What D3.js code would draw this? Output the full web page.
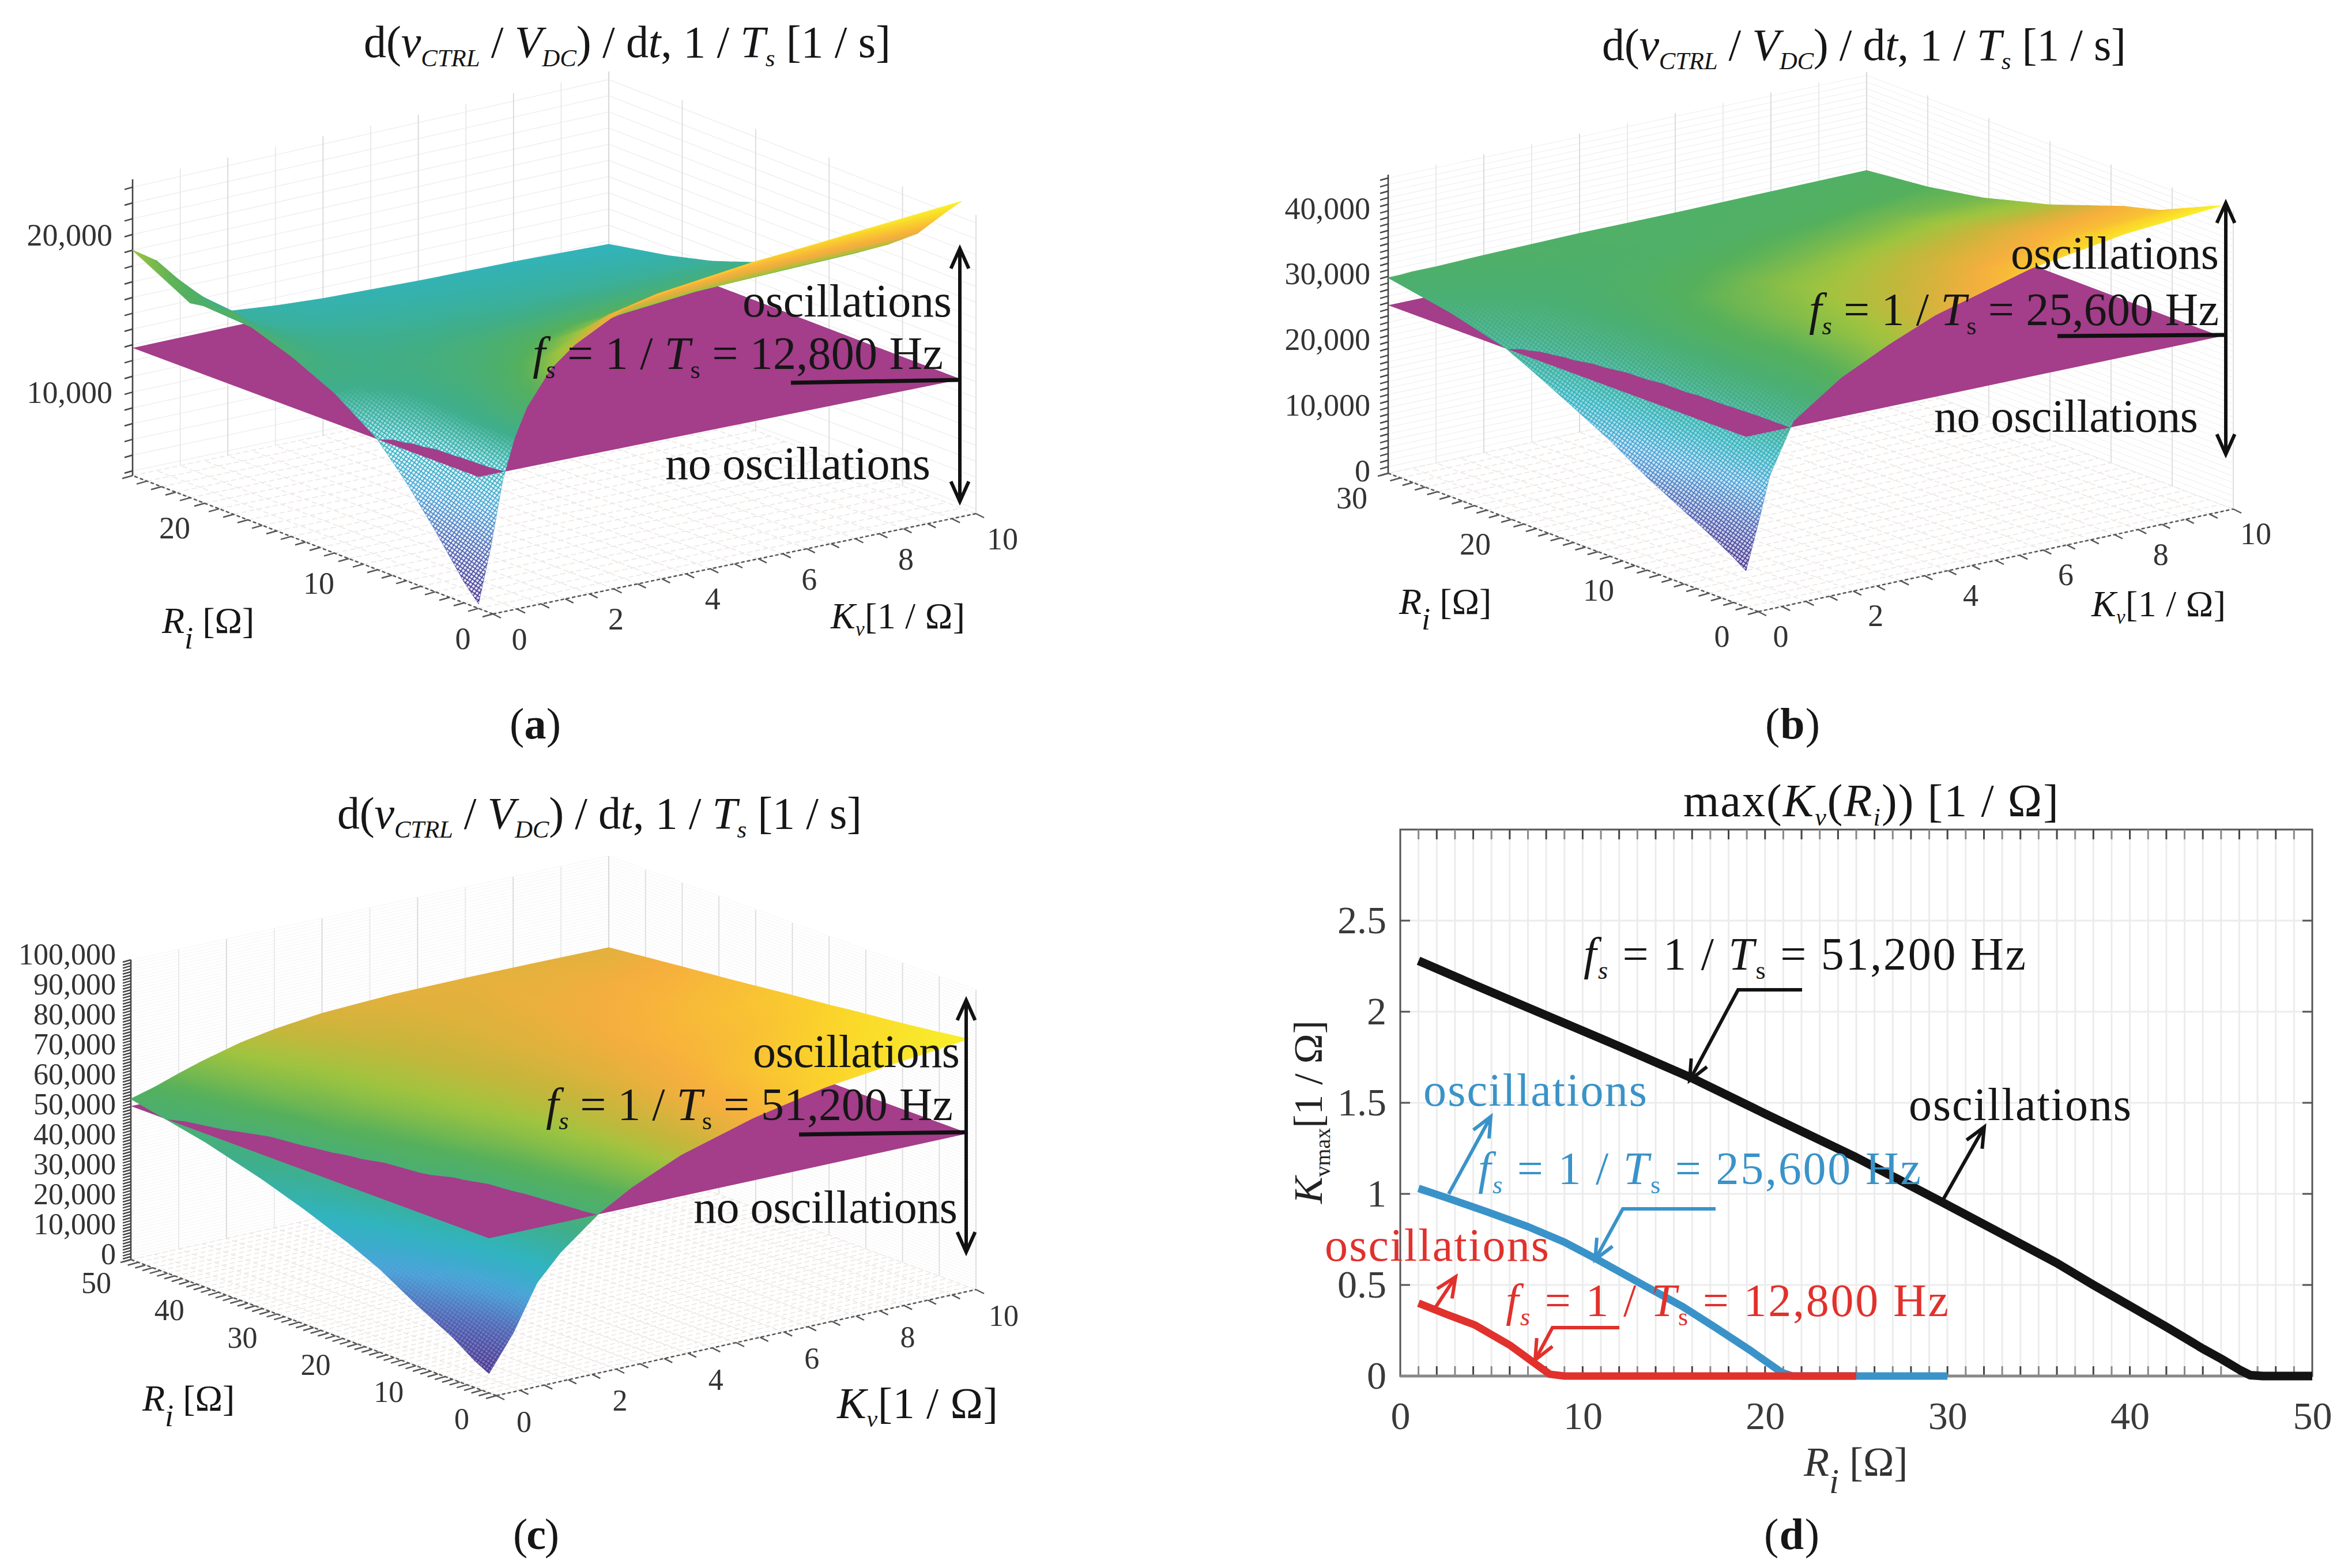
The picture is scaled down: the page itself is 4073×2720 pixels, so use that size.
<!DOCTYPE html>
<html>
<head>
<meta charset="utf-8">
<script src="https://cdn.jsdelivr.net/npm/d3@7"></script>
<style>
  body { margin: 0; background: #fff; }
  svg { display: block; font-family: "Liberation Serif", serif; }
  text { white-space: pre; }
</style>
</head>
<body>
<svg id="fig" width="4073" height="2720"></svg>
<script>
// values

// (a) fs = 12,800 Hz
var riA = [1, 2, 4, 6, 8, 11, 14, 18, 21, 25];
var kvA = [0, 0.25, 0.5, 0.75, 1, 1.5, 2, 3, 4, 6, 8, 10];
var zA = [
  [5000, 8300, 12300, 14800, 16500, 18600, 19800, 21400, 22000, 22800, 23400, 24000],
  [6000, 9300, 12800, 14900, 16200, 17900, 19100, 20700, 21400, 22200, 22700, 23000],
  [8500, 11000, 13200, 14500, 15400, 16700, 17700, 19000, 19700, 20400, 20700, 20900],
  [10800, 12300, 13500, 14400, 15000, 15900, 16700, 17800, 18400, 19000, 19300, 19500],
  [12800, 13300, 13900, 14400, 14800, 15500, 16000, 16900, 17400, 17900, 18100, 18300],
  [14700, 14800, 14900, 15000, 15000, 15300, 15500, 15900, 16200, 16500, 16700, 16800],
  [16000, 15700, 15500, 15300, 15100, 15000, 15000, 15100, 15200, 15400, 15500, 15500],
  [17400, 16600, 16000, 15600, 15200, 14800, 14600, 14400, 14300, 14200, 14200, 14200],
  [17000, 16700, 16200, 15800, 15300, 14600, 14200, 13900, 13800, 13700, 13600, 13500],
  [19000, 18500, 18000, 17100, 16300, 15000, 13800, 13500, 13300, 13100, 13000, 12800]
];

// (b) fs = 25,600 Hz
var riB = [1, 2, 4, 6, 9, 12, 15, 18, 20.5, 25, 30];
var kvB = [0, 0.25, 0.5, 1, 1.5, 2, 3, 4, 6, 8, 10];
var zB = [
  [5500, 12000, 19000, 26500, 29000, 31500, 35000, 38000, 42000, 44300, 45500],
  [6800, 13000, 19500, 26500, 28900, 31200, 34800, 37400, 41000, 43400, 44700],
  [9000, 14500, 20500, 26500, 28800, 30800, 34300, 36800, 40000, 42000, 43000],
  [11000, 16000, 21500, 26800, 28800, 30700, 34000, 36200, 38900, 40500, 41300],
  [14000, 18500, 22800, 27000, 28900, 31000, 33500, 35500, 37500, 39000, 39800],
  [17500, 20800, 24000, 27000, 28800, 30800, 33000, 34600, 36200, 37400, 37800],
  [20500, 22800, 25000, 27200, 28700, 30300, 32300, 33500, 34800, 35800, 35800],
  [23400, 24700, 26000, 27500, 28700, 29800, 31200, 32200, 33300, 34300, 34300],
  [25700, 26200, 26900, 27900, 28800, 29500, 30600, 31200, 32200, 33000, 33000],
  [28000, 28200, 28500, 28900, 29200, 29500, 29800, 30100, 30500, 31000, 31500],
  [29800, 29800, 29900, 29900, 30000, 30100, 30200, 30300, 30300, 30400, 30500]
];

// (c) fs = 51,200 Hz
var riC = [1, 3, 6, 11, 16, 20, 26, 32, 40, 50];
var kvC = [0, 0.5, 1, 1.5, 2.3, 3, 4, 5.5, 7, 8.5, 10];
var zC = [
  [6500, 18000, 33000, 41500, 51600, 58000, 65000, 72000, 77000, 80000, 82700],
  [9000, 19500, 32000, 41000, 52500, 58500, 64800, 71400, 76200, 79300, 82000],
  [14000, 22500, 33500, 42300, 53500, 59000, 64800, 71000, 75500, 78500, 81000],
  [20500, 28500, 37000, 45000, 55000, 60000, 65000, 70500, 74400, 77000, 79500],
  [27700, 34000, 41500, 48800, 56400, 60800, 65000, 69800, 73000, 75500, 78200],
  [32200, 37500, 44500, 52300, 58000, 61500, 65200, 69300, 72300, 74300, 77000],
  [38000, 42500, 49500, 54800, 59500, 62500, 65500, 69000, 71700, 73700, 75500],
  [43000, 46500, 52800, 57000, 61000, 63300, 66000, 68800, 71000, 72500, 73800],
  [48500, 52000, 56000, 59000, 62000, 64200, 66500, 68700, 70200, 71000, 71800],
  [53600, 55800, 58500, 61000, 64300, 66300, 68200, 69300, 69500, 69400, 69200]
];

// (d) max(Kv(Ri)) curves
var riBlack = [1, 4, 8, 12, 15.9, 20, 25, 29.6, 33, 36, 38, 40, 42, 44, 45, 46, 46.6, 47.3, 50];
var kBlack = [2.28, 2.15, 1.98, 1.81, 1.64, 1.44, 1.2, 0.96, 0.78, 0.62, 0.5, 0.385, 0.27, 0.15, 0.095, 0.035, 0.005, 0, 0];
var riBlue = [1, 2.5, 4.8, 7, 9, 10.8, 13.5, 15.5, 17.3, 19.2, 20.9, 21.5, 30];
var kBlue = [1.03, 0.98, 0.90, 0.82, 0.735, 0.64, 0.49, 0.38, 0.265, 0.14, 0.02, 0, 0];
var riRed = [1, 2.5, 4.1, 6, 7.5, 8.2, 9, 25];
var kRed = [0.40, 0.34, 0.28, 0.17, 0.06, 0.01, 0, 0];

var xTicksD = [0, 10, 20, 30, 40, 50];
var yTicksD = [0, 0.5, 1, 1.5, 2, 2.5];

var riLabelsA = [0, 10, 20];
var riLabelsB = [0, 10, 20, 30];
var riLabelsC = [0, 10, 20, 30, 40, 50];
var kvLabels = [0, 2, 4, 6, 8, 10];
var zLabelsA = [10000, 20000];
var zLabelsB = [0, 10000, 20000, 30000, 40000];
var zLabelsC = [0, 10000, 20000, 30000, 40000, 50000, 60000, 70000, 80000, 90000, 100000];

var fmt = d3.format(",");
var svg = d3.select("#fig");
var defs = svg.append("defs");
var gradId = 0;

var colormap = d3.scaleLinear()
  .domain([0, 0.15, 0.28, 0.40, 0.52, 0.65, 0.74, 0.79, 0.85, 0.93, 1])
  .range(["#45308f", "#4d62b3", "#4aa3da", "#30b4c0", "#3fae8a", "#55b05c", "#9fc43f", "#c9b53b", "#f6ae3e", "#fbd52a", "#f8f12b"]);

// white dots of the open mesh in the low part of the surface
defs.append("pattern").attr("id", "meshPat")
  .attr("width", 6).attr("height", 6)
  .attr("patternUnits", "userSpaceOnUse")
  .attr("patternTransform", "rotate(35)")
  .append("rect").attr("width", 4.2).attr("height", 4.2).attr("fill", "#fff");
defs.append("mask").attr("id", "meshMask")
  .attr("maskUnits", "userSpaceOnUse")
  .attr("x", 0).attr("y", 0).attr("width", 4073).attr("height", 2720)
  .append("rect").attr("width", 4073).attr("height", 2720).attr("fill", "url(#meshPat)");

// text with italic and subscript pieces
function rich(g, x, y, segs, size, o) {
  o = o || {};
  var t = g.append("text").attr("x", x).attr("y", y)
    .attr("font-size", size).attr("fill", o.fill || "#161616");
  if (o.width) t.attr("textLength", o.width).attr("lengthAdjust", "spacing");
  if (o.anchor) t.attr("text-anchor", o.anchor);
  if (o.transform) t.attr("transform", o.transform);
  var shift = 0;
  segs.forEach(function (s) {
    var kind = s[1] || "";
    var fs = size, want = 0;
    if (kind.indexOf("sub") >= 0) { fs = size * 0.55; want = size * 0.2; }
    if (kind.indexOf("big") >= 0) { fs = size * 0.85; want = size * 0.42; }
    var ts = t.append("tspan").text(s[0]).attr("font-size", fs).attr("dy", want - shift);
    if (kind.indexOf("i") == 0) ts.attr("font-style", "italic");
    shift = want;
  });
  return t;
}

function fsSegs(v) {
  return [["f", "i"], ["s", "isub"], [" = 1 / "], ["T", "i"], ["s", "sub"], [" = " + v + " Hz"]];
}
var titleSegs = [["d("], ["v", "i"], ["CTRL", "isub"], [" / "], ["V", "i"], ["DC", "isub"], [") / d"], ["t", "i"], [", 1 / "], ["T", "i"], ["s", "isub"], [" [1 / s]"]];

// line with open arrow heads
function arrow(g, pts, color, w, both) {
  var line = d3.line();
  g.append("path").attr("d", line(pts)).attr("fill", "none")
    .attr("stroke", color).attr("stroke-width", w);
  function head(tip, from) {
    var a = Math.atan2(from[1] - tip[1], from[0] - tip[0]);
    var len = 38, spread = 0.42;
    var p1 = [tip[0] + len * Math.cos(a + spread), tip[1] + len * Math.sin(a + spread)];
    var p2 = [tip[0] + len * Math.cos(a - spread), tip[1] + len * Math.sin(a - spread)];
    g.append("path").attr("d", line([p1, tip, p2])).attr("fill", "none")
      .attr("stroke", color).attr("stroke-width", w);
  }
  var n = pts.length;
  head(pts[n - 1], pts[n - 2]);
  if (both) head(pts[0], pts[1]);
}

function surfacePanel(p) {
  var g = svg.append("g");
  var uS = d3.scaleLinear().domain([0, p.riMax]).range([0, 1]);
  var vS = d3.scaleLinear().domain([0, 10]).range([0, 1]);
  var wS = d3.scaleLinear().domain([p.zMin, p.zMax]).range([0, 1]);
  var zLo = d3.min(p.z, function (r) { return d3.min(r); });
  var zHi = d3.max(p.z, function (r) { return d3.max(r); });
  var cS = d3.scaleLinear().domain([zLo, zHi]).range([0, 1]).clamp(true);
  var meshS = d3.scaleLinear().domain([p.meshFull, p.meshTop]).range([p.meshMax, 0]).clamp(true);

  function project(ri, kv, z) {
    var u = uS(ri), v = vS(kv), w = wS(z);
    function bl(a, b, c, d) { return (1 - u) * (1 - v) * a + u * (1 - v) * b + (1 - u) * v * c + u * v * d; }
    var x = bl(p.F[0], p.L[0], p.R[0], p.B[0]);
    var y = bl(p.F[1], p.L[1], p.R[1], p.B[1]);
    var h = bl(p.h[0], p.h[1], p.h[2], p.h[3]);
    return [x, y - w * h];
  }
  function seg(a, b, color, w, dash) {
    var l = g.append("line").attr("x1", a[0]).attr("y1", a[1]).attr("x2", b[0]).attr("y2", b[1])
      .attr("stroke", color).attr("stroke-width", w);
    if (dash) l.attr("stroke-dasharray", dash);
  }

  // walls and floor
  var riGrid = d3.range(0, p.riMax + 0.01, p.riStep);
  var kvGrid = d3.range(0, 10.01, 0.5);
  var zGrid = d3.range(Math.ceil(p.zMin / p.zStep) * p.zStep, p.zMax + 1, p.zStep);
  zGrid.forEach(function (z) {
    seg(project(p.riMax, 0, z), project(p.riMax, 10, z), "#efefef", p.wallW);
    seg(project(p.riMax, 10, z), project(0, 10, z), "#efefef", p.wallW);
    seg(project(p.riMax, 0, z), [project(p.riMax, 0, z)[0] - 14, project(p.riMax, 0, z)[1] + 4], "#444", 2.5);
  });
  riGrid.forEach(function (r) {
    seg(project(r, 0, p.zMin), project(r, 10, p.zMin), "#ebe6e3", 1.6, "9 5");
    if (r % p.riWall == 0) seg(project(r, 10, p.zMin), project(r, 10, p.zMax), "#dcdcdc", 1.8);
  });
  kvGrid.forEach(function (k) {
    seg(project(0, k, p.zMin), project(p.riMax, k, p.zMin), "#ebe6e3", 1.6, "9 5");
    if (k % 1 == 0) seg(project(p.riMax, k, p.zMin), project(p.riMax, k, p.zMax), k % 2 == 0 ? "#d8d8d8" : "#e8e8e8", 1.8);
  });

  // axis lines and ticks
  seg(project(p.riMax, 0, p.zMin), project(p.riMax, 0, p.zMax), "#444", 2.6);
  seg(project(0, 0, p.zMin), project(p.riMax, 0, p.zMin), "#555", 2.5, "6 4");
  seg(project(0, 0, p.zMin), project(0, 10, p.zMin), "#555", 2.5, "6 4");
  riGrid.forEach(function (r) {
    var a = project(r, 0, p.zMin);
    seg(a, [a[0] - 18, a[1] + 5], "#555", 2.5);
  });
  kvGrid.forEach(function (k) {
    var a = project(0, k, p.zMin);
    seg(a, [a[0] + 14, a[1] + 7], "#555", 2.5);
  });

  // tick labels
  function tickText(x, y, str, size, anchor) {
    g.append("text").attr("x", x).attr("y", y).attr("dy", "0.35em").attr("font-size", size)
      .attr("text-anchor", anchor).attr("fill", "#333").text(str);
  }
  p.zLabels.forEach(function (z) {
    tickText(p.zLabelX, project(p.riMax, 0, z)[1] + p.zLabelDy, fmt(z), p.tickSize, "end");
  });
  p.riLabels.forEach(function (r) {
    var a = project(r, 0, p.zMin);
    tickText(a[0] + p.riOff[0], a[1] + p.riOff[1], r, p.tickSize, "middle");
  });
  kvLabels.forEach(function (k) {
    var a = project(0, k, p.zMin);
    tickText(a[0] + p.kvOff[0], a[1] + p.kvOff[1], k, p.tickSize, "middle");
  });

  // surface cells, cut along the fs plane so the plane can sit between the two parts
  function vert(i, j) { return { ri: p.ri[i], kv: p.kv[j], z: p.z[i][j] }; }
  function cut(a, b, t) {
    return { ri: a.ri + (b.ri - a.ri) * t, kv: a.kv + (b.kv - a.kv) * t, z: a.z + (b.z - a.z) * t };
  }
  var low = [], high = [];
  function addPoly(list, poly) {
    for (var k = 1; k + 1 < poly.length; k++) list.push([poly[0], poly[k], poly[k + 1]]);
  }
  function split(tri) {
    var up = [], dn = [];
    tri.forEach(function (a, k) {
      var b = tri[(k + 1) % 3];
      if (a.z >= p.plane) up.push(a); else dn.push(a);
      if ((a.z >= p.plane) != (b.z >= p.plane)) {
        var c = cut(a, b, (p.plane - a.z) / (b.z - a.z));
        up.push(c); dn.push(c);
      }
    });
    if (up.length >= 3) addPoly(high, up);
    if (dn.length >= 3) addPoly(low, dn);
  }
  for (var i = 0; i + 1 < p.ri.length; i++) {
    for (var j = 0; j + 1 < p.kv.length; j++) {
      split([vert(i, j), vert(i + 1, j), vert(i + 1, j + 1)]);
      split([vert(i, j), vert(i + 1, j + 1), vert(i, j + 1)]);
    }
  }
  function depth(t) {
    return -d3.mean(t, function (d) { return uS(d.ri) + vS(d.kv); });
  }
  var line = d3.line();

  // shading of one triangle: a linear gradient along its z slope
  function gradient(t, stopFn) {
    var pts = t.map(function (d) { return project(d.ri, d.kv, d.z); });
    var zs = t.map(function (d) { return d.z; });
    var dx1 = pts[1][0] - pts[0][0], dy1 = pts[1][1] - pts[0][1];
    var dx2 = pts[2][0] - pts[0][0], dy2 = pts[2][1] - pts[0][1];
    var det = dx1 * dy2 - dx2 * dy1;
    var lo = d3.min(zs), hi = d3.max(zs);
    if (Math.abs(det) < 0.01 || hi - lo < 1) return null;
    var ga = ((zs[1] - zs[0]) * dy2 - (zs[2] - zs[0]) * dy1) / det;
    var gb = (dx1 * (zs[2] - zs[0]) - dx2 * (zs[1] - zs[0])) / det;
    var start = pts[zs.indexOf(lo)];
    var k = (hi - lo) / (ga * ga + gb * gb);
    var id = "g" + (gradId++);
    var lg = defs.append("linearGradient").attr("id", id).attr("gradientUnits", "userSpaceOnUse")
      .attr("x1", start[0]).attr("y1", start[1])
      .attr("x2", start[0] + ga * k).attr("y2", start[1] + gb * k);
    [0, 0.25, 0.5, 0.75, 1].forEach(function (f) {
      stopFn(lg.append("stop").attr("offset", f), lo + f * (hi - lo));
    });
    return "url(#" + id + ")";
  }
  function triPath(t) {
    return line(t.map(function (d) { return project(d.ri, d.kv, d.z); })) + "Z";
  }
  function inMeshZone(t) {
    return d3.max(t, function (d) { return d.ri; }) <= p.meshRi &&
      d3.max(t, function (d) { return d.kv; }) <= p.meshKv &&
      d3.min(t, function (d) { return d.z; }) < p.meshTop;
  }
  function drawList(list) {
    list.sort(function (a, b) { return d3.ascending(depth(a), depth(b)); });
    list.forEach(function (t) {
      var paint = gradient(t, function (s, z) { s.attr("stop-color", colormap(cS(z))); })
        || colormap(cS(d3.mean(t, function (d) { return d.z; })));
      g.append("path").attr("d", triPath(t)).attr("fill", paint).attr("stroke", paint)
        .attr("stroke-width", 1.2).attr("stroke-linejoin", "round");
    });
    // open mesh fades out with height
    var mg = g.append("g").attr("mask", "url(#meshMask)");
    list.filter(inMeshZone).forEach(function (t) {
      var paint = gradient(t, function (s, z) { s.attr("stop-color", "#fff").attr("stop-opacity", meshS(z)); });
      if (paint) mg.append("path").attr("d", triPath(t)).attr("fill", paint);
    });
  }
  drawList(low);

  // the fs plane
  g.append("path").attr("d", line([
    project(1, 0, p.plane), project(p.riMax, 0, p.plane),
    project(p.riMax, 10, p.plane), project(1, 10, p.plane)]) + "Z")
    .attr("fill", "#a43d8a");

  drawList(high);

  // labels and annotations
  rich(g, p.title[0], p.title[1], titleSegs, 78, { width: p.title[2] });
  rich(g, p.riLab[0], p.riLab[1], [["R", "i"], ["i", "ibig"], [" [Ω]"]], p.riLab[2]);
  rich(g, p.kvLab[0], p.kvLab[1], [["K", "i"], ["v", "isub"], ["[1 / Ω]"]], p.kvLab[2], { width: p.kvLab[3] });
  rich(g, p.osc[0], p.osc[1], [["oscillations"]], 80, { width: p.osc[2] });
  rich(g, p.fs[0], p.fs[1], fsSegs(p.fsText), 80, { width: p.fs[2] });
  rich(g, p.noOsc[0], p.noOsc[1], [["no oscillations"]], 80, { width: p.noOsc[2] });
  arrow(g, [[p.arrow[0], p.arrow[1]], [p.arrow[0], p.arrow[2]]], "#111", 6, true);
  g.append("path").attr("d", line(p.hline)).attr("stroke", "#111").attr("stroke-width", 7).attr("fill", "none");
  rich(g, p.cap[0], p.cap[1], [["("], [p.capText, ""], [")"]], 76, { width: p.cap[2] })
    .selectAll("tspan").filter(function (d, k) { return k == 1; }).attr("font-weight", "bold");
}

surfacePanel({
  ri: riA, kv: kvA, z: zA, riMax: 25, plane: 12800, zMin: 4700, zMax: 23500,
  F: [855, 1065], L: [230, 825], R: [1693, 891], B: [1056, 651], h: [530, 514, 518, 527],
  riStep: 1, riWall: 5, zStep: 1000, wallW: 1.5,
  meshTop: 14800, meshFull: 12500, meshMax: 0.9, meshRi: 11, meshKv: 1.5,
  zLabels: zLabelsA, riLabels: riLabelsA, zLabelX: 195, zLabelDy: 0, tickSize: 54,
  riOff: [-52, 42], kvOff: [46, 43],
  title: [631, 99, 914], riLab: [281, 1098, 64], kvLab: [1441, 1090, 64, 233],
  osc: [1288, 549, 363], fs: [924, 640, 712], noOsc: [1154, 831, 460], fsText: "12,800",
  arrow: [1665, 431, 870], hline: [[1372, 664], [1665, 659]],
  cap: [884, 1281, 89], capText: "a"
});

surfacePanel({
  ri: riB, kv: kvB, z: zB, riMax: 30, plane: 25600, zMin: 0, zMax: 45500,
  F: [3050, 1061], L: [2408, 821], R: [3874, 883], B: [3238, 643], h: [525, 518, 518, 518],
  riStep: 1, riWall: 5, zStep: 1000, wallW: 1.1,
  meshTop: 29000, meshFull: 17000, meshMax: 0.75, meshRi: 30, meshKv: 10,
  zLabels: zLabelsB, riLabels: riLabelsB, zLabelX: 2377, zLabelDy: -5, tickSize: 54,
  riOff: [-63, 42], kvOff: [39, 42],
  title: [2779, 104, 909], riLab: [2427, 1065, 64], kvLab: [3628, 1069, 64, 233],
  osc: [3488, 466, 361], fs: [3138, 564, 711], noOsc: [3355, 749, 458], fsText: "25,600",
  arrow: [3861, 352, 788], hline: [[3569, 583], [3861, 581]],
  cap: [3062, 1281, 95], capText: "b"
});

surfacePanel({
  ri: riC, kv: kvC, z: zC, riMax: 50, plane: 51200, zMin: 0, zMax: 100000,
  F: [861, 2421], L: [227, 2185], R: [1693, 2237], B: [1056, 2001], h: [524, 520, 520, 516],
  riStep: 1, riWall: 5, zStep: 1000, wallW: 0.7,
  meshTop: 32000, meshFull: 8000, meshMax: 0.3, meshRi: 50, meshKv: 10,
  zLabels: zLabelsC, riLabels: riLabelsC, zLabelX: 201, zLabelDy: -10, tickSize: 52,
  riOff: [-60, 40], kvOff: [48, 45],
  title: [585, 1437, 910], riLab: [247, 2447, 64], kvLab: [1452, 2460, 76, 279],
  osc: [1306, 1851, 359], fs: [947, 1943, 706], noOsc: [1203, 2121, 458], fsText: "51,200",
  arrow: [1676, 1735, 2172], hline: [[1386, 1968], [1676, 1964]],
  cap: [890, 2687, 80], capText: "c"
});

// (d) the Kvmax curves
function curvePanel() {
  var g = svg.append("g");
  var x = d3.scaleLinear().domain([0, 50]).range([2429, 4011]);
  var y = d3.scaleLinear().domain([0, 3]).range([2387, 1439]);

  d3.range(1, 50).forEach(function (v) {
    g.append("line").attr("x1", x(v)).attr("x2", x(v)).attr("y1", y(0)).attr("y2", y(3))
      .attr("stroke", "#ececec").attr("stroke-width", 3);
  });
  d3.range(0.5, 3, 0.5).forEach(function (v) {
    g.append("line").attr("x1", x(0)).attr("x2", x(50)).attr("y1", y(v)).attr("y2", y(v))
      .attr("stroke", "#ececec").attr("stroke-width", 3);
  });
  g.append("rect").attr("x", x(0)).attr("y", y(3)).attr("width", x(50) - x(0)).attr("height", y(0) - y(3))
    .attr("fill", "none").attr("stroke", "#555").attr("stroke-width", 3);
  d3.range(1, 50).forEach(function (v) {
    var c = v % 2 ? "#888" : "#444";
    g.append("line").attr("x1", x(v)).attr("x2", x(v)).attr("y1", y(3)).attr("y2", y(3) + 17).attr("stroke", c).attr("stroke-width", 3);
    g.append("line").attr("x1", x(v)).attr("x2", x(v)).attr("y1", y(0)).attr("y2", y(0) - 17).attr("stroke", c).attr("stroke-width", 3);
  });
  d3.range(0.5, 3, 0.5).forEach(function (v) {
    g.append("line").attr("x1", x(0)).attr("x2", x(0) + 17).attr("y1", y(v)).attr("y2", y(v)).attr("stroke", "#555").attr("stroke-width", 3);
    g.append("line").attr("x1", x(50)).attr("x2", x(50) - 17).attr("y1", y(v)).attr("y2", y(v)).attr("stroke", "#555").attr("stroke-width", 3);
  });
  g.append("line").attr("x1", x(0)).attr("x2", x(50)).attr("y1", y(0)).attr("y2", y(0)).attr("stroke", "#888").attr("stroke-width", 5);

  var ax = g.append("g").attr("transform", "translate(0," + y(0) + ")")
    .call(d3.axisBottom(x).tickValues(xTicksD).tickSize(0).tickPadding(44).tickFormat(d3.format("d")));
  var ay = g.append("g").attr("transform", "translate(" + x(0) + ",0)")
    .call(d3.axisLeft(y).tickValues(yTicksD).tickSize(0).tickPadding(24).tickFormat(function (d) { return d; }));
  [ax, ay].forEach(function (a) {
    a.select(".domain").remove();
    a.selectAll("text").attr("font-family", "Liberation Serif").attr("font-size", 68).attr("fill", "#3a3a3a");
  });

  function curve(rs, ks, color, w) {
    var l = d3.line().x(function (d, i) { return x(rs[i]); }).y(function (d) { return y(d); });
    g.append("path").attr("d", l(ks)).attr("fill", "none").attr("stroke", color)
      .attr("stroke-width", w).attr("stroke-linejoin", "round");
  }
  curve(riBlack, kBlack, "#131313", 15);
  curve(riBlue, kBlue, "#3a93c8", 13);
  curve(riRed, kRed, "#e1312d", 13);

  var blue = "#3a93c8", red = "#e1312d", black = "#131313";
  rich(g, 2920, 1416, [["max("], ["K", "i"], ["v", "isub"], ["("], ["R", "i"], ["i", "isub"], [")) [1 / Ω]"]], 80, { width: 651 });
  rich(g, 3129, 2560, [["R", "i"], ["i", "ibig"], [" [Ω]"]], 72, { fill: "#333" });
  rich(g, 2293, 2088, [["K", "i"], ["vmax", "sub"], ["[1 / Ω]"]], 70, { transform: "rotate(-90 2293 2088)", width: 318, fill: "#222" });

  rich(g, 2747, 1682, fsSegs("51,200"), 80, { width: 767 });
  arrow(g, [[3126, 1717], [3015, 1717], [2931, 1874]], black, 6);
  rich(g, 3311, 1943, [["oscillations"]], 80, { width: 386 });
  arrow(g, [[3365, 2091], [3442, 1955]], black, 6);

  rich(g, 2469, 1918, [["oscillations"]], 80, { width: 388, fill: blue });
  arrow(g, [[2513, 2071], [2586, 1937]], blue, 6);
  rich(g, 2564, 2054, fsSegs("25,600"), 80, { width: 768, fill: blue });
  arrow(g, [[2976, 2097], [2815, 2097], [2767, 2185]], blue, 6);

  rich(g, 2298, 2187, [["oscillations"]], 80, { width: 389, fill: red });
  arrow(g, [[2490, 2268], [2525, 2215]], red, 6);
  rich(g, 2612, 2283, fsSegs("12,800"), 80, { width: 768, fill: red });
  arrow(g, [[2809, 2303], [2693, 2303], [2663, 2359]], red, 6);

  rich(g, 3060, 2687, [["("], ["d", ""], [")"]], 76, { width: 96 })
    .selectAll("tspan").filter(function (d, k) { return k == 1; }).attr("font-weight", "bold");
}
curvePanel();
</script>
</body>
</html>
